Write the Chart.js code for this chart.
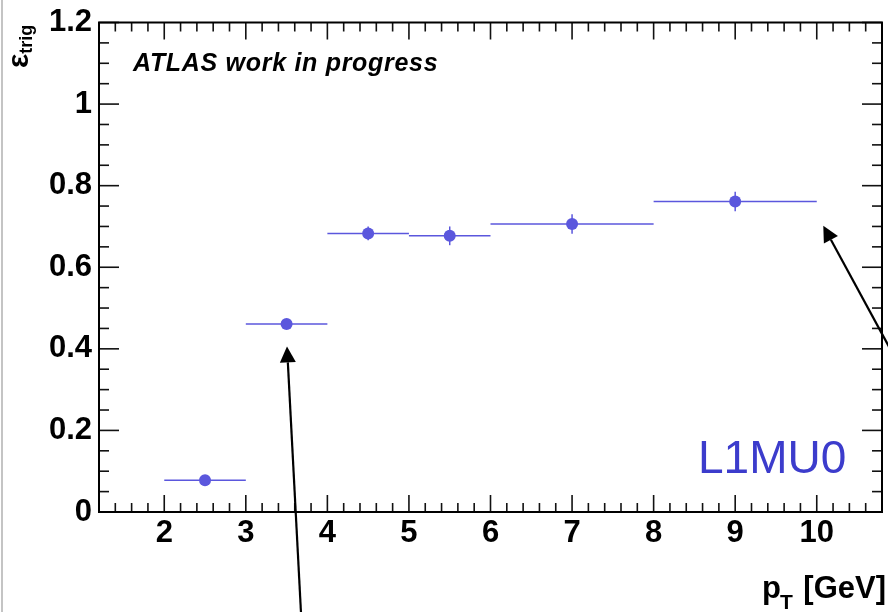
<!DOCTYPE html>
<html>
<head>
<meta charset="utf-8">
<title>L1MU0 trigger efficiency</title>
<script src="https://cdn.jsdelivr.net/npm/chart.js@4.4.0/dist/chart.umd.min.js"></script>
<style>
body{margin:0;background:#fff;}
canvas{display:block;}
</style>
</head>
<body>
<canvas id="eff" width="888" height="612"></canvas>
<script>
// bins in pT [GeV] and trigger efficiency
const binLo=[2,3,4,5,6,8];
const binHi=[3,4,5,6,8,10];
const effVal=[0.078,0.461,0.683,0.677,0.706,0.761];
const effErr=[0.008,0.012,0.017,0.023,0.024,0.024];
const xTicks=[2,3,4,5,6,7,8,9,10];
const yTicks=[0,0.2,0.4,0.6,0.8,1,1.2];
const yTickLabels=['0','0.2','0.4','0.6','0.8','1','1.2'];
// annotation arrows, data coords [x,y]
const arrowTails=[[3.68,-0.26],[10.9,0.40]];
const arrowTips=[[3.505,0.406],[10.08,0.702]];

const blue='#5b57dd';
const FONT='"Liberation Sans", Arial, sans-serif';

function line(ctx,x1,y1,x2,y2){
  ctx.beginPath();ctx.moveTo(x1,y1);ctx.lineTo(x2,y2);ctx.stroke();
}

const rootStyle={
  id:'rootStyle',
  beforeDraw(chart){
    const ctx=chart.ctx;
    ctx.save();
    ctx.fillStyle='#fff';
    ctx.fillRect(0,0,chart.width,chart.height);
    ctx.fillStyle='#c4c4c4';
    ctx.fillRect(1,0,2,chart.height);
    ctx.restore();
  },
  beforeDatasetsDraw(chart){
    const ctx=chart.ctx, xs=chart.scales.x, ys=chart.scales.y;
    ctx.save();
    ctx.strokeStyle=blue;
    ctx.lineWidth=1.5;
    for(let i=0;i<binLo.length;i++){
      const py=ys.getPixelForValue(effVal[i]);
      line(ctx,xs.getPixelForValue(binLo[i]),py,xs.getPixelForValue(binHi[i]),py);
      const px=xs.getPixelForValue((binLo[i]+binHi[i])/2);
      line(ctx,px,ys.getPixelForValue(effVal[i]-effErr[i]),px,ys.getPixelForValue(effVal[i]+effErr[i]));
    }
    ctx.restore();
  },
  afterDraw(chart){
    const ctx=chart.ctx, xs=chart.scales.x, ys=chart.scales.y, a=chart.chartArea;
    ctx.save();
    // ticks on all four sides
    ctx.strokeStyle='#111';
    ctx.lineWidth=1.6;
    for(let v=xs.min;v<=xs.max+1e-6;v+=0.2){
      const px=xs.getPixelForValue(v);
      const major=xTicks.some(t=>Math.abs(t-v)<1e-6);
      const len=major?17:9;
      line(ctx,px,a.bottom,px,a.bottom-len);
      line(ctx,px,a.top,px,a.top+len);
    }
    for(let v=ys.min;v<=ys.max+1e-6;v+=0.05){
      const py=ys.getPixelForValue(v);
      const major=yTicks.some(t=>Math.abs(t-v)<1e-6);
      const len=major?20:10;
      line(ctx,a.left,py,a.left+len,py);
      line(ctx,a.right,py,a.right-len,py);
    }
    // frame
    ctx.strokeStyle='#000';
    ctx.lineWidth=2;
    ctx.strokeRect(a.left,a.top,a.right-a.left,a.bottom-a.top);

    // arrows
    ctx.fillStyle='#000';
    ctx.lineWidth=2.2;
    for(let i=0;i<arrowTips.length;i++){
      const x1=xs.getPixelForValue(arrowTails[i][0]), y1=ys.getPixelForValue(arrowTails[i][1]);
      const x2=xs.getPixelForValue(arrowTips[i][0]), y2=ys.getPixelForValue(arrowTips[i][1]);
      const ang=Math.atan2(y2-y1,x2-x1);
      const hl=16, hw=8;
      const bx=x2-hl*Math.cos(ang), by=y2-hl*Math.sin(ang);
      line(ctx,x1,y1,bx,by);
      ctx.beginPath();
      ctx.moveTo(x2,y2);
      ctx.lineTo(bx+hw*Math.sin(ang),by-hw*Math.cos(ang));
      ctx.lineTo(bx-hw*Math.sin(ang),by+hw*Math.cos(ang));
      ctx.closePath();
      ctx.fill();
    }

    // labels
    ctx.fillStyle='#000';
    ctx.textBaseline='alphabetic';
    ctx.textAlign='left';
    ctx.font='italic bold 25px '+FONT;
    ctx.letterSpacing='0.7px';
    ctx.fillText('ATLAS work in progress',133,71);
    ctx.letterSpacing='0px';

    ctx.fillStyle='#3c3ccc';
    ctx.font='46px '+FONT;
    ctx.fillText('L1MU0',698,473);

    // x title
    ctx.fillStyle='#000';
    ctx.font='bold 31px '+FONT;
    ctx.fillText('p',762,598);
    ctx.font='bold 21px '+FONT;
    ctx.fillText('T',780,609);
    ctx.font='bold 31px '+FONT;
    ctx.textAlign='right';
    ctx.fillText('[GeV]',886,598);

    // y title
    ctx.translate(28,68);
    ctx.rotate(-Math.PI/2);
    ctx.textAlign='left';
    ctx.font='bold 30px '+FONT;
    ctx.fillText('ε',0,0);
    const w=ctx.measureText('ε').width;
    ctx.font='bold 18px '+FONT;
    ctx.fillText('trig',w,4);
    ctx.restore();
  }
};

new Chart('eff',{
  type:'scatter',
  data:{
    datasets:[{
      data:binLo.map((lo,i)=>({x:(lo+binHi[i])/2,y:effVal[i]})),
      pointRadius:6,
      pointBackgroundColor:blue,
      pointBorderWidth:0
    }]
  },
  options:{
    responsive:false,
    animation:false,
    events:[],
    layout:{padding:{top:18,right:3,left:0,bottom:0}},
    plugins:{legend:{display:false},tooltip:{enabled:false}},
    scales:{
      x:{
        type:'linear',
        min:1.2,
        max:10.8,
        afterBuildTicks:s=>{s.ticks=xTicks.map(v=>({value:v}));},
        afterFit:s=>{s.height=100;},
        grid:{display:false,drawTicks:false},
        border:{display:false},
        ticks:{
          autoSkip:false,
          maxRotation:0,
          padding:6,
          color:'#000',
          font:{family:FONT,size:31,weight:'bold',lineHeight:1},
          callback:v=>String(v)
        }
      },
      y:{
        min:0,
        max:1.2,
        afterBuildTicks:s=>{s.ticks=yTicks.map(v=>({value:v}));},
        afterFit:s=>{s.width=99;},
        grid:{display:false,drawTicks:false},
        border:{display:false},
        ticks:{
          autoSkip:false,
          padding:7,
          color:'#000',
          font:{family:FONT,size:31,weight:'bold',lineHeight:1},
          callback:(v,i)=>yTickLabels[i]
        }
      }
    }
  },
  plugins:[rootStyle]
});
</script>
</body>
</html>
